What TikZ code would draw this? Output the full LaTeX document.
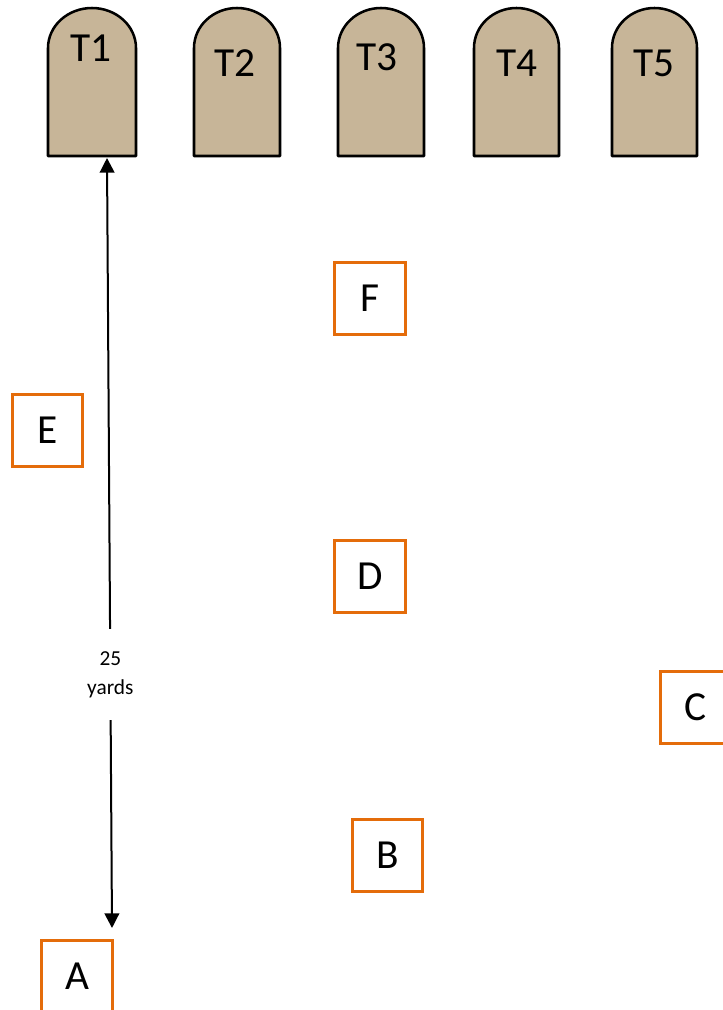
\documentclass[tikz,border=0pt]{standalone}
\usepackage{fontspec}
\setmainfont{Carlito}
\usetikzlibrary{arrows.meta}
\definecolor{boxorange}{RGB}{228,108,10}
\definecolor{stonetan}{RGB}{199,181,152}
\newcommand{\headstone}[6]{% name, left x, right x, radius, text x, text y
  \draw[stone] (#2,156) -- (#2,48) arc[start angle=180,end angle=360,x radius=#4,y radius=40] -- (#3,156) -- cycle;
  \node[stonelabel] (#1) at (#5,#6) {#1};}
\begin{document}
\begin{tikzpicture}[x=0.75pt,y=-0.75pt,
  stone/.style={draw=black, line width=1.9pt, fill=stonetan, line join=round},
  stonelabel/.style={font=\fontsize{31}{37}\selectfont, inner sep=0pt},
  spot/.style={draw=boxorange, line width=2.25pt, minimum width=53pt, minimum height=54pt, inner sep=0pt, font=\fontsize{31}{37}\selectfont, fill=white},
  dim/.style={line width=1.5pt, {Triangle[length=11pt,width=11pt]}-{Triangle[length=11pt,width=11pt]}},
  dimlabel/.style={fill=white, font=\fontsize{16}{21.75}\selectfont, align=center, inner xsep=2pt, inner ysep=17pt}
]
\useasboundingbox (0,0) rectangle (723,1010);
\headstone{T1}{48}{136}{44}{91}{48}
\headstone{T2}{194}{280}{43}{235}{63}
\headstone{T3}{338}{424}{43}{377}{57}
\headstone{T4}{474}{559}{42.5}{517}{63}
\headstone{T5}{612}{697}{42.5}{654}{63}

\node[spot] (F) at (370,298.5) {F};
\node[spot] (E) at (47.5,430.5) {E};
\node[spot] (D) at (370,576) {D};
\node[spot] (C) at (696,707) {C};
\node[spot] (B) at (387.5,855) {B};
\node[spot] (A) at (77,976) {A};

\coordinate (t1foot) at (107,158);
\coordinate (afoot) at (112,928);
\draw[dim] (t1foot) -- node[dimlabel, pos=0.671] (yardlabel) {25\\yards} (afoot);
\end{tikzpicture}
\end{document}
